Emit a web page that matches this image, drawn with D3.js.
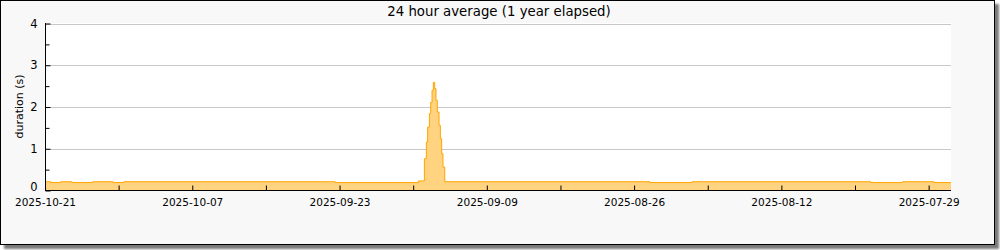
<!DOCTYPE html>
<html>
<head>
<meta charset="utf-8">
<script src="https://cdn.jsdelivr.net/npm/d3@7"></script>
<style>
  body { margin: 0; background: #fff; }
  text { font-family: "DejaVu Sans", sans-serif; fill: #000; }
</style>
</head>
<body>
<div id="graph"></div>
<script>
// Data_____________________________________________________
// step changes of the 24 hour average, newest first (left side of chart is newest)
const times = [
  "2025-10-21T00:00", "2025-10-20T11:00", "2025-10-19T12:00", "2025-10-18T11:00",
  "2025-10-16T11:00", "2025-10-14T13:00", "2025-10-13T12:00", "2025-09-23T10:00",
  "2025-09-15T12:00", "2025-09-14T22:30", "2025-09-14T18:00", "2025-09-14T15:00",
  "2025-09-14T11:00", "2025-09-14T08:00", "2025-09-14T05:00", "2025-09-14T02:00",
  "2025-09-13T23:00", "2025-09-13T20:00", "2025-09-13T17:00", "2025-09-13T13:00",
  "2025-09-13T10:00", "2025-09-13T07:00", "2025-09-13T04:00", "2025-09-13T00:00",
  "2025-08-24T12:00", "2025-08-20T12:00", "2025-08-03T12:00", "2025-07-31T11:00",
  "2025-07-28T12:00", "2025-07-26T21:00"
];
const durations = [
  0.21, 0.19, 0.21, 0.19,
  0.21, 0.19, 0.21, 0.19,
  0.23, 0.76, 1.16, 1.52,
  1.84, 2.11, 2.40, 2.59,
  2.44, 2.16, 1.88, 1.56,
  1.24, 0.88, 0.56, 0.21,
  0.19, 0.21, 0.19, 0.21,
  0.19, 0.19
];
const xDomain = ["2025-10-21T00:00", "2025-07-26T21:00"];
const xTickLabels = ["2025-10-21", "2025-10-07", "2025-09-23", "2025-09-09", "2025-08-26", "2025-08-12", "2025-07-29"];
const xMinorTicks = ["2025-10-14", "2025-09-30", "2025-09-16", "2025-09-02", "2025-08-19", "2025-08-05"];
const yTicks = [0, 1, 2, 3, 4];
const yMinorTicks = [0.5, 1.5, 2.5, 3.5];
const title = "24 hour average (1 year elapsed)";
const yTitle = "duration (s)";

// Layout_____________________________________________________
const width = 1000, height = 250;
const pLeft = 45, pRight = 951, pTop = 23, pBottom = 190;

const parse = s => new Date(s + (s.length === 10 ? "T00:00" : "") + "Z");
const data = times.map((t, i) => [parse(t), durations[i]]);

const svg = d3.select('#graph')
  .append('svg')
  .attr('width', width)
  .attr('height', height)
  .style('display', 'block');

const defs = svg.append('defs');
defs.append('filter').attr('id', 'blur')
  .append('feGaussianBlur').attr('stdDeviation', 1);

// shadow + frame
svg.append('rect')
  .attr('x', 4).attr('y', 4).attr('width', 995).attr('height', 245)
  .attr('fill', '#7a7a7a').attr('filter', 'url(#blur)');
svg.append('rect')
  .attr('x', 0.5).attr('y', 0.5).attr('width', 994).attr('height', 244)
  .attr('fill', '#f8f8f8').attr('stroke', '#000');

// plot background
svg.append('rect')
  .attr('x', pLeft).attr('y', pTop).attr('width', pRight - pLeft).attr('height', pBottom - pTop)
  .attr('fill', '#fff');

// Scales_____________________________________________________
const xScale = d3.scaleUtc()
  .domain(xDomain.map(parse))
  .range([pLeft, pRight]);
const yScale = d3.scaleLinear()
  .domain([0, 4])
  .range([pBottom + 0.5, pTop + 0.5]);

// grid
svg.append('g')
  .selectAll('line')
  .data(yTicks.filter(d => d > 0))
  .enter()
  .append('line')
  .attr('x1', pLeft).attr('x2', pRight)
  .attr('y1', d => Math.round(yScale(d)) + 0.5)
  .attr('y2', d => Math.round(yScale(d)) + 0.5)
  .attr('stroke', '#c8c8c8');

// Area_____________________________________________________
const area = d3.area()
  .curve(d3.curveStepAfter)
  .x(d => xScale(d[0]))
  .y0(yScale(0))
  .y1(d => yScale(d[1]));
const line = d3.line()
  .curve(d3.curveStepAfter)
  .x(d => xScale(d[0]))
  .y(d => yScale(d[1]));

svg.append('path')
  .datum(data)
  .attr('d', area)
  .attr('fill', '#ffd37f');
svg.append('path')
  .datum(data)
  .attr('d', line)
  .attr('fill', 'none')
  .attr('stroke', '#ffa500')
  .attr('stroke-width', 1);

// Axes_____________________________________________________
const yAxis = d3.axisRight(yScale).tickValues(yTicks).tickSize(5).tickFormat('');
const yAxisMinor = d3.axisRight(yScale).tickValues(yMinorTicks).tickSize(4).tickFormat('');
const xAxis = d3.axisTop(xScale)
  .tickValues(xTickLabels.map(parse))
  .tickSize(5)
  .tickFormat((d, i) => xTickLabels[i]);
const xAxisMinor = d3.axisTop(xScale).tickValues(xMinorTicks.map(parse)).tickSize(5).tickFormat('');

[yAxis, yAxisMinor].forEach(ax => {
  const g = svg.append('g')
    .attr('transform', `translate(${pLeft + 0.5}, 0)`)
    .call(ax);
  g.select('.domain').remove();
  g.selectAll('.tick line').attr('stroke', '#000');
});
[xAxis, xAxisMinor].forEach(ax => {
  const g = svg.append('g')
    .attr('transform', `translate(0, ${pBottom + 0.5})`)
    .call(ax);
  g.select('.domain').remove();
  g.selectAll('.tick line').attr('stroke', '#000');
  g.selectAll('.tick text')
    .attr('y', 15.5)
    .attr('dy', 0)
    .attr('font-size', '10.5px')
    .attr('font-family', '"DejaVu Sans", sans-serif')
    .attr('fill', '#000');
});

// axis lines
svg.append('line')
  .attr('x1', pLeft + 0.5).attr('x2', pLeft + 0.5)
  .attr('y1', pTop).attr('y2', pBottom + 1)
  .attr('stroke', '#000');
svg.append('line')
  .attr('x1', pLeft).attr('x2', pRight)
  .attr('y1', pBottom + 0.5).attr('y2', pBottom + 0.5)
  .attr('stroke', '#000');

// y labels
svg.append('g')
  .selectAll('text')
  .data(yTicks)
  .enter()
  .append('text')
  .attr('x', pLeft - 7.5)
  .attr('y', d => yScale(d))
  .attr('dy', d => d === 0 ? '0' : '0.36em')
  .attr('text-anchor', 'end')
  .attr('font-size', '11.5px')
  .text(d => d);

// titles
svg.append('text')
  .attr('x', 499)
  .attr('y', 16)
  .attr('text-anchor', 'middle')
  .attr('font-size', '13.3px')
  .text(title);

svg.append('text')
  .attr('transform', `translate(23, ${(pTop + pBottom) / 2}) rotate(-90)`)
  .attr('text-anchor', 'middle')
  .attr('font-size', '11px')
  .text(yTitle);
</script>
</body>
</html>
